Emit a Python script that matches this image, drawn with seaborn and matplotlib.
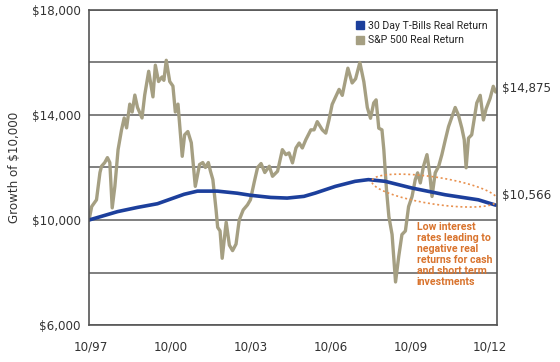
import numpy as np
import pandas as pd
import matplotlib
matplotlib.use("Agg")
import matplotlib.pyplot as plt
from matplotlib.patches import Patch
import seaborn as sns

# Growth of $10,000, Oct 1997 - Dec 2012
sp_year = [1997.68, 1997.78, 1997.96, 1998.09, 1998.15, 1998.27, 1998.37, 1998.46, 1998.55, 1998.65,
           1998.77, 1998.90, 1999.00, 1999.09, 1999.21, 1999.30, 1999.40, 1999.50, 1999.67, 1999.77,
           1999.92, 2000.08, 2000.17, 2000.29, 2000.42, 2000.49, 2000.58, 2000.71, 2000.83, 2000.92,
           2001.02, 2001.18, 2001.27, 2001.39, 2001.52, 2001.67, 2001.83, 2001.95, 2002.05, 2002.16,
           2002.24, 2002.33, 2002.45, 2002.51, 2002.60, 2002.68, 2002.83, 2002.95, 2003.07, 2003.20,
           2003.32, 2003.47, 2003.63, 2003.74, 2003.89, 2004.01, 2004.14, 2004.28, 2004.45, 2004.57,
           2004.76, 2004.94, 2005.07, 2005.19, 2005.32, 2005.45, 2005.57, 2005.69, 2005.82, 2006.01,
           2006.13, 2006.25, 2006.44, 2006.57, 2006.69, 2006.81, 2006.94, 2007.07, 2007.19, 2007.40,
           2007.56, 2007.69, 2007.85, 2008.00, 2008.13, 2008.25, 2008.37, 2008.46, 2008.56, 2008.68,
           2008.75, 2008.85, 2008.94, 2009.06, 2009.19, 2009.31, 2009.43, 2009.56, 2009.68, 2009.81,
           2009.93, 2010.02, 2010.12, 2010.24, 2010.37, 2010.47, 2010.56, 2010.68, 2010.81, 2010.93,
           2011.06, 2011.18, 2011.31, 2011.43, 2011.55, 2011.68, 2011.77, 2011.84, 2011.93, 2012.05,
           2012.14, 2012.24, 2012.37, 2012.49, 2012.59, 2012.74, 2012.86, 2012.95]
sp500 = [10000, 10512, 10769, 11808, 12049, 12188, 12377, 12188, 10462, 11281,
         12679, 13434, 13887, 13509, 14414, 14114, 14759, 14286, 13887, 14759,
         15666, 14690, 15897, 15276, 15448, 15321, 16085, 15276, 15103, 14114,
         14414, 12426, 13245, 13370, 12943, 11281, 12113, 12188, 12000, 12188,
         11858, 11538, 10385, 9721, 9583, 8542, 9917, 9042, 8833, 9083,
         10000, 10385, 10577, 10769, 11473, 12000, 12151, 11808, 12049, 11665,
         11858, 12679, 12490, 12555, 12177, 12743, 12932, 12743, 13057, 13434,
         13434, 13747, 13434, 13309, 13811, 14404, 14690, 14976, 14748, 15783,
         15220, 15379, 16000, 15266, 14286, 13875, 14459, 14576, 13498, 13434,
         12679, 11154, 10127, 9446, 7639, 8612, 9446, 9583, 10512, 10896,
         11538, 11796, 11412, 12049, 12490, 11796, 10896, 11796, 12049, 12490,
         13057, 13558, 13936, 14286, 14000, 13498, 13057, 11988, 13120, 13245,
         13811, 14459, 14748, 13811, 14231, 14631, 15093, 14875]

tb_year = [1997.68, 1998.75, 1999.50, 2000.25, 2000.75, 2001.25, 2001.75, 2002.50, 2003.25, 2003.74,
           2004.50, 2005.12, 2005.75, 2006.18, 2006.93, 2007.67, 2008.17, 2008.80, 2009.80, 2011.05,
           2012.30, 2012.95]
tbills = [10000, 10319, 10480, 10620, 10800, 10980, 11100, 11100, 11020, 10942,
          10860, 10835, 10900, 11027, 11281, 11473, 11538, 11473, 11219, 10962,
          10769, 10566]

tick_years = [1997.75, 2000.75, 2003.75, 2006.75, 2009.75, 2012.75]
tick_labels = ["10/97", "10/00", "10/03", "10/06", "10/09", "10/12"]
y_ticks = [6000, 8000, 10000, 12000, 14000, 16000, 18000]
y_labels = ["$6,000", "", "$10,000", "", "$14,000", "", "$18,000"]

sp_df = pd.DataFrame({"year": sp_year, "value": sp500})
tb_df = pd.DataFrame({"year": tb_year, "value": tbills})

sns.set_style("white")
plt.rcParams["font.family"] = ["DejaVu Sans"]

SP_COLOR = "#A59F82"
TB_COLOR = "#1C3F9C"
NOTE_COLOR = "#D9742E"
narrow = ["Liberation Sans Narrow", "Roboto"]

fig = plt.figure(figsize=(5.6, 3.62), dpi=100)
ax = fig.add_axes([0.159, 0.1022, 0.7285, 0.8702])

ax.set_yticks(y_ticks)
ax.yaxis.grid(True, color="#6a6a6a", linewidth=1.2)
ax.set_axisbelow(True)

sns.lineplot(data=sp_df, x="year", y="value", ax=ax, color=SP_COLOR, linewidth=2.4)
sns.lineplot(data=tb_df, x="year", y="value", ax=ax, color=TB_COLOR, linewidth=2.6)

# dotted ellipse round the recent T-bill stretch
t = np.linspace(0, 2 * np.pi, 200)
cx, cy = 2010.66, 11120
ex = cx + 2.36 * np.cos(t)
ey = cy + 520 * np.sin(t) - 350 * np.cos(t)
ax.plot(ex, ey, color="#E8914F", linestyle=(0, (1.2, 1.6)), linewidth=1.2)

ax.text(2009.98, 9930, "Low interest\nrates leading to\nnegative real\nreturns for cash\nand short term\ninvestments",
        color=NOTE_COLOR, fontsize=7.6, family=narrow, fontweight="bold", va="top", ha="left",
        linespacing=1.12)

ax.set_xlim(1997.68, 2013.0)
ax.set_ylim(6000, 18000)
ax.set_xticks(tick_years)
ax.set_xticklabels(tick_labels)
ax.set_yticklabels(y_labels)
ax.tick_params(axis="both", length=0, labelsize=8.6, colors="#333333")
ax.tick_params(axis="x", pad=11)
ax.tick_params(axis="y", pad=6)
ax.set_xlabel("")
ax.set_ylabel("Growth of $10,000", fontsize=8.6, color="#333333", labelpad=8)

for side in ["left", "right", "top", "bottom"]:
    ax.spines[side].set_visible(True)
    ax.spines[side].set_color("#555555")
    ax.spines[side].set_linewidth(1.2)

# end value labels
ax.text(1.012, (sp500[-1] - 6000) / 12000 + 0.012, "$14,875", transform=ax.transAxes,
        fontsize=8.6, color="#333333", va="center", ha="left")
ax.text(1.012, (tbills[-1] - 6000) / 12000 + 0.03, "$10,566", transform=ax.transAxes,
        fontsize=8.6, color="#333333", va="center", ha="left")

handles = [Patch(facecolor=TB_COLOR, edgecolor=TB_COLOR, label="30 Day T-Bills Real Return"),
           Patch(facecolor=SP_COLOR, edgecolor=SP_COLOR, label="S&P 500 Real Return")]
ax.legend(handles=handles, loc="upper left", bbox_to_anchor=(0.63, 0.995), frameon=False,
          handlelength=0.8, handleheight=0.8, handletextpad=0.4, labelspacing=0.4,
          prop={"family": narrow, "size": 7.6})

fig.savefig("out.png", dpi=100)
